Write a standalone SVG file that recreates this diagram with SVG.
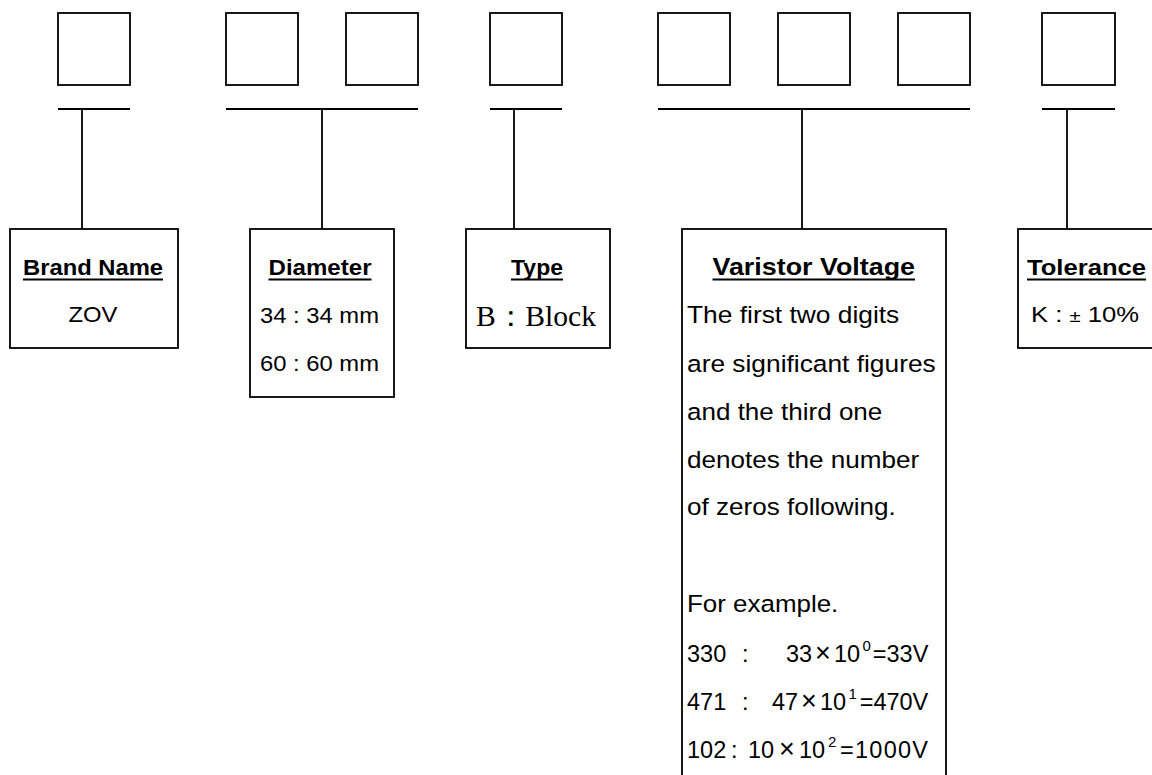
<svg xmlns="http://www.w3.org/2000/svg" width="1152" height="775" viewBox="0 0 1152 775">
<style>
.bx{fill:#fff;stroke:#000;stroke-width:1.8}
.ln{stroke:#000;stroke-width:1.8;fill:none}
.ul{stroke:#000;stroke-width:2}
.h{font-family:"Liberation Sans",Arial,sans-serif;font-weight:bold;fill:#000}
.t{font-family:"Liberation Sans",Arial,sans-serif;fill:#000}
.s{font-family:"Liberation Serif","Times New Roman",serif;fill:#000}
.x{font-size:27px;text-anchor:middle}
.sup{font-size:15px}
</style>
<rect width="1152" height="775" fill="#fff"/>
<g id="code-boxes">
<rect class="bx" x="58" y="13" width="72" height="72"/>
<rect class="bx" x="226" y="13" width="72" height="72"/>
<rect class="bx" x="346" y="13" width="72" height="72"/>
<rect class="bx" x="490" y="13" width="72" height="72"/>
<rect class="bx" x="658" y="13" width="72" height="72"/>
<rect class="bx" x="778" y="13" width="72" height="72"/>
<rect class="bx" x="898" y="13" width="72" height="72"/>
<rect class="bx" x="1042" y="13" width="73" height="72"/>
</g>
<g id="connectors">
<line class="ln" x1="58" y1="109" x2="130" y2="109"/>
<line class="ln" x1="82" y1="109" x2="82" y2="229"/>
<line class="ln" x1="226" y1="109" x2="418" y2="109"/>
<line class="ln" x1="322" y1="109" x2="322" y2="229"/>
<line class="ln" x1="490" y1="109" x2="562" y2="109"/>
<line class="ln" x1="514" y1="109" x2="514" y2="229"/>
<line class="ln" x1="658" y1="109" x2="970" y2="109"/>
<line class="ln" x1="802" y1="109" x2="802" y2="229"/>
<line class="ln" x1="1042" y1="109" x2="1115" y2="109"/>
<line class="ln" x1="1067" y1="109" x2="1067" y2="229"/>
</g>
<g id="brand-name">
<rect class="bx" x="10" y="229" width="168" height="119"/>
<text class="h" x="23" y="275" font-size="22.5" textLength="140" lengthAdjust="spacingAndGlyphs">Brand Name</text>
<line class="ul" x1="23" y1="279.5" x2="163" y2="279.5"/>
<text class="t" x="68.5" y="322" font-size="21.5" textLength="49" lengthAdjust="spacingAndGlyphs">ZOV</text>
</g>
<g id="diameter">
<rect class="bx" x="250" y="229" width="144" height="168"/>
<text class="h" x="268.5" y="275" font-size="22.5" textLength="103" lengthAdjust="spacingAndGlyphs">Diameter</text>
<line class="ul" x1="268.5" y1="279.5" x2="371.5" y2="279.5"/>
<text class="t" x="260" y="323" font-size="21.5" textLength="119" lengthAdjust="spacingAndGlyphs">34 : 34 mm</text>
<text class="t" x="260" y="371" font-size="21.5" textLength="119" lengthAdjust="spacingAndGlyphs">60 : 60 mm</text>
</g>
<g id="type">
<rect class="bx" x="466" y="229" width="144" height="119"/>
<text class="h" x="511" y="274.5" font-size="22.5" textLength="52" lengthAdjust="spacingAndGlyphs">Type</text>
<line class="ul" x1="511" y1="279.5" x2="563" y2="279.5"/>
<text class="s" x="476" y="326" font-size="29" textLength="120" lengthAdjust="spacingAndGlyphs">B：Block</text>
</g>
<g id="varistor-voltage">
<rect class="bx" x="682" y="229" width="264" height="600"/>
<text class="h" x="712.5" y="274.5" font-size="24.5" textLength="202.5" lengthAdjust="spacingAndGlyphs">Varistor Voltage</text>
<line class="ul" x1="712.5" y1="279.5" x2="915" y2="279.5"/>
<text class="t" x="687" y="323.3" font-size="24.5" textLength="212.3" lengthAdjust="spacingAndGlyphs">The first two digits</text>
<text class="t" x="687" y="371.7" font-size="24.5" textLength="248.7" lengthAdjust="spacingAndGlyphs">are significant figures</text>
<text class="t" x="687" y="420" font-size="24.5" textLength="195.3" lengthAdjust="spacingAndGlyphs">and the third one</text>
<text class="t" x="687" y="468.3" font-size="24.5" textLength="232.3" lengthAdjust="spacingAndGlyphs">denotes the number</text>
<text class="t" x="687" y="515" font-size="24.5" textLength="208.7" lengthAdjust="spacingAndGlyphs">of zeros following.</text>
<text class="t" x="687" y="611.7" font-size="24.5" textLength="151.3" lengthAdjust="spacingAndGlyphs">For example.</text>
<text class="t" y="661.7" font-size="23.5"><tspan x="687">330</tspan><tspan x="742">:</tspan><tspan x="786">33</tspan><tspan class="x" x="823">×</tspan><tspan x="834">10</tspan><tspan class="sup" x="862.5" dy="-11">0</tspan><tspan x="872.8" dy="11">=33V</tspan></text>
<text class="t" y="710" font-size="23.5"><tspan x="687">471</tspan><tspan x="742">:</tspan><tspan x="772">47</tspan><tspan class="x" x="809">×</tspan><tspan x="820">10</tspan><tspan class="sup" x="848.5" dy="-11">1</tspan><tspan x="859.7" dy="11">=470V</tspan></text>
<text class="t" y="758.3" font-size="23.5"><tspan x="687">102</tspan><tspan x="731">:</tspan><tspan x="748">10</tspan><tspan class="x" x="787">×</tspan><tspan x="799">10</tspan><tspan class="sup" x="828" dy="-11">2</tspan><tspan x="840" dy="11" textLength="88" lengthAdjust="spacing">=1000V</tspan></text>
</g>
<g id="tolerance">
<rect class="bx" x="1018" y="229" width="170" height="119"/>
<text class="h" x="1027" y="275" font-size="22.5" textLength="119" lengthAdjust="spacingAndGlyphs">Tolerance</text>
<line class="ul" x1="1027" y1="279.5" x2="1146" y2="279.5"/>
<text class="t" x="1031" y="322" font-size="21.5" textLength="108" lengthAdjust="spacingAndGlyphs">K : <tspan font-size="17">±</tspan> 10%</text>
</g>
</svg>
